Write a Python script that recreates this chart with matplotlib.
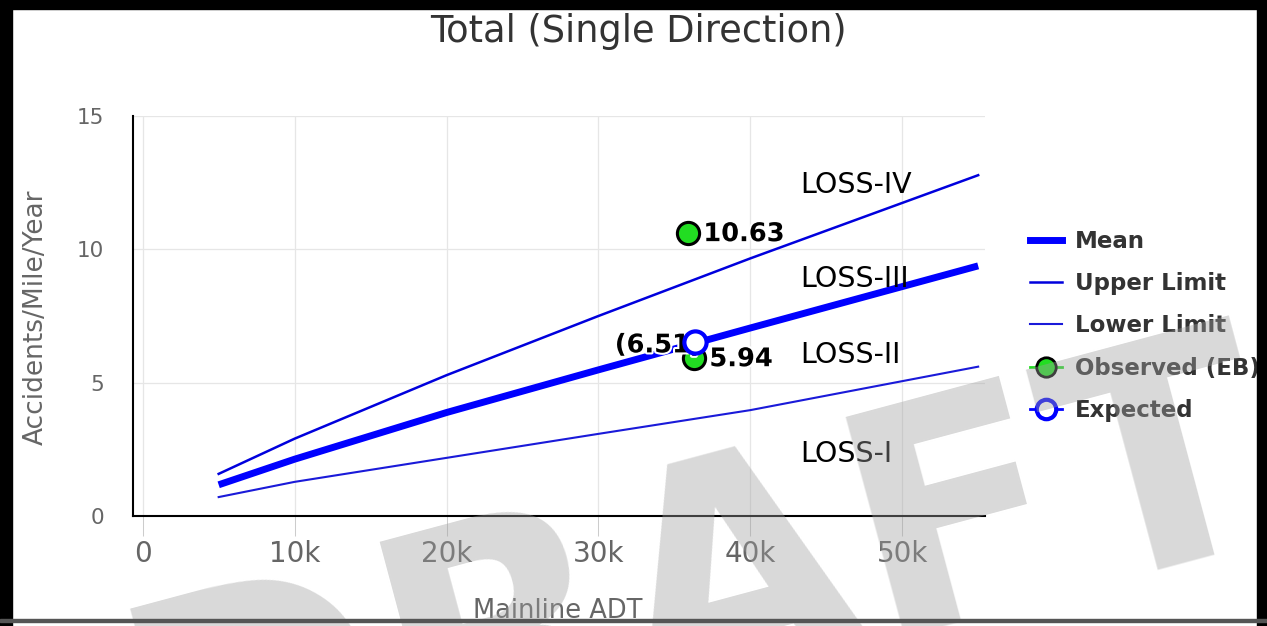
import matplotlib
matplotlib.use('Agg')
import matplotlib.pyplot as plt
from matplotlib.lines import Line2D
from matplotlib.patches import Rectangle
import matplotlib.patheffects as pe

# ---------------- data ----------------
title = "Total (Single Direction)"
x_label = "Mainline ADT"
y_label = "Accidents/Mile/Year"

adt = [5000, 10000, 20000, 30000, 40000, 55000]
mean_vals = [1.17, 2.13, 3.88, 5.48, 7.05, 9.38]
upper_vals = [1.58, 2.90, 5.28, 7.50, 9.66, 12.78]
lower_vals = [0.71, 1.28, 2.18, 3.08, 3.97, 5.60]

observed_adt = [35900, 36300]
observed_vals = [10.63, 5.94]
observed_labels = ["10.63", "5.94"]

expected_adt = [36350]
expected_vals = [6.51]
expected_labels = ["(6.51)"]

loss_labels = ["LOSS-IV", "LOSS-III", "LOSS-II", "LOSS-I"]
loss_label_x = 43300
loss_label_y = [12.1, 8.57, 5.75, 2.03]

legend_labels = ["Mean", "Upper Limit", "Lower Limit", "Observed (EB)", "Expected"]

x_ticks = [0, 10000, 20000, 30000, 40000, 50000]
x_tick_labels = ["0", "10k", "20k", "30k", "40k", "50k"]
y_ticks = [0, 5, 10, 15]
y_tick_labels = ["0", "5", "10", "15"]

watermark = "DRAFT"

# ---------------- figure ----------------
W, H = 1267, 626
fig = plt.figure(figsize=(W / 100, H / 100), dpi=100)
fig.patch.set_facecolor("white")

ax = fig.add_axes([133 / W, 1 - 516 / H, (985 - 133) / W, (516 - 116) / H])
ax.set_xlim(-640, 55450)
ax.set_ylim(0, 15)

ax.set_axisbelow(True)
ax.grid(True, color="#e6e6e6", lw=0.9)
for s in ["top", "right"]:
    ax.spines[s].set_visible(False)
for s in ["left", "bottom"]:
    ax.spines[s].set_color("black")
    ax.spines[s].set_linewidth(1.5)

ax.set_xticks(x_ticks)
ax.set_xticklabels(x_tick_labels)
ax.set_yticks(y_ticks)
ax.set_yticklabels(y_tick_labels)
ax.tick_params(axis="x", length=14.5, width=0.75, color="#cccccc", pad=3,
               labelsize=20, labelcolor="#666666")
ax.tick_params(axis="y", length=0, pad=21, labelsize=15.5, labelcolor="#666666")

MEAN_C = "#0000ff"
UP_C = "#0000dd"
LOW_C = "#1a1ad9"
GREEN = "#22dd22"

ax.plot(adt, upper_vals, color=UP_C, lw=1.8, solid_joinstyle="round", zorder=3)
ax.plot(adt, lower_vals, color=LOW_C, lw=1.5, solid_joinstyle="round", zorder=3)
ax.plot(adt, mean_vals, color=MEAN_C, lw=5, solid_capstyle="butt",
        solid_joinstyle="round", zorder=3)

for lbl, yv in zip(loss_labels, loss_label_y):
    ax.text(loss_label_x, yv, lbl, fontsize=20.5, color="black",
            ha="left", va="baseline", zorder=4)

halo = [pe.withStroke(linewidth=3, foreground="white")]
ax.plot(observed_adt, observed_vals, "o", ms=16, mfc=GREEN, mec="black",
        mew=2.2, zorder=6)
for x, y, lbl in zip(observed_adt, observed_vals, observed_labels):
    ax.annotate(lbl, (x, y), xytext=(11, 1), textcoords="offset points",
                ha="left", va="center_baseline", fontsize=18.5, fontweight="bold",
                color="black", path_effects=halo, zorder=7)
for x, y, lbl in zip(expected_adt, expected_vals, expected_labels):
    ax.annotate(lbl, (x, y), xytext=(5, 0), textcoords="offset points",
                ha="right", va="center_baseline", fontsize=18.5, fontweight="bold",
                color="black", path_effects=halo, zorder=6.5)
ax.plot(expected_adt, expected_vals, "o", ms=16, mfc="white", mec=MEAN_C,
        mew=3, zorder=8)

# titles / labels
fig.text(638.5 / W, 1 - 42 / H, title, ha="center", va="baseline",
         fontsize=26.5, color="#333333")
fig.text(558 / W, 1 - 618 / H, x_label, ha="center", va="baseline",
         fontsize=18.5, color="#666666")
fig.text(36 / W, 1 - 317 / H, y_label, ha="center", va="center",
         rotation=90, fontsize=19, color="#666666")

# legend
handles = [
    Line2D([], [], color=MEAN_C, lw=5),
    Line2D([], [], color=UP_C, lw=1.8),
    Line2D([], [], color=LOW_C, lw=1.5),
    Line2D([], [], color=GREEN, lw=2, marker="o", ms=14, mfc=GREEN,
           mec="black", mew=2),
    Line2D([], [], color=MEAN_C, lw=2, marker="o", ms=14, mfc="white",
           mec=MEAN_C, mew=3),
]
leg = fig.legend(handles, legend_labels, loc="upper left",
                 bbox_to_anchor=(1030 / W, 1 - 230 / H), frameon=False,
                 borderpad=0, borderaxespad=0, handlelength=1.4,
                 handletextpad=0.55, labelspacing=0.84,
                 prop={"weight": "bold", "size": 16.5})
for t in leg.get_texts():
    t.set_color("#333333")

# watermark
fig.text(160 / W, 1 - 830 / H, watermark, fontsize=225, fontweight="bold",
         color="#a0a0a0", alpha=0.4, rotation=15, rotation_mode="anchor",
         ha="left", va="baseline", zorder=100)

# frame
fig.add_artist(Rectangle((0, 0), 12 / W, 1, transform=fig.transFigure,
                         color="black", zorder=200))
fig.add_artist(Rectangle((0, 1 - 9 / H), 1, 9 / H, transform=fig.transFigure,
                         color="black", zorder=200))
fig.add_artist(Rectangle((1 - 10 / W, 0), 10 / W, 1, transform=fig.transFigure,
                         color="black", zorder=200))
fig.add_artist(Rectangle((0, 4 / H), 1, 3 / H, transform=fig.transFigure,
                         color="#555555", zorder=200))

fig.savefig("out.png", dpi=100)
